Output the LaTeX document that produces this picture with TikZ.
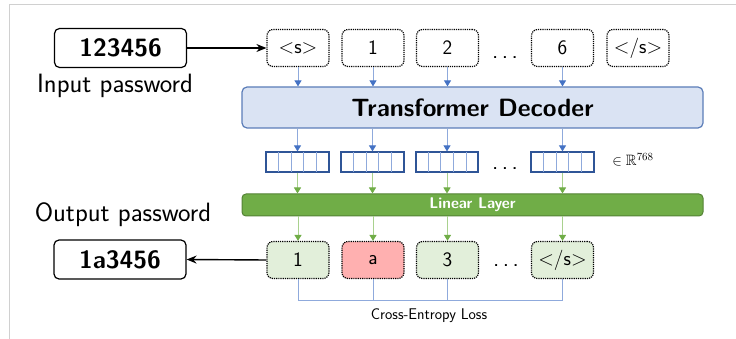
\documentclass[tikz,border=0pt]{standalone}
\usepackage{fontspec}
\usepackage{amssymb}
\usetikzlibrary{arrows.meta,calc}
\definecolor{tipblue}{HTML}{4472C4}
\definecolor{lineblue}{HTML}{8FAADC}
\definecolor{decfill}{HTML}{DAE3F3}
\definecolor{decdraw}{HTML}{5B7DB8}
\definecolor{vecdraw}{HTML}{2F5597}
\definecolor{tipgreen}{HTML}{70AD47}
\definecolor{linegreen}{HTML}{A9D18E}
\definecolor{linfill}{HTML}{70AD47}
\definecolor{lindraw}{HTML}{548235}
\definecolor{outfill}{HTML}{E2EFDA}
\definecolor{errfill}{HTML}{FFB0B0}
\definecolor{framegrey}{HTML}{D0D0D0}
\newcommand{\wdots}{.\hspace{3.5pt}.\hspace{3.5pt}.}
\begin{document}
\begin{tikzpicture}[x=1pt,y=-1pt,
  pwbox/.style={draw=black,line width=1.2pt,rounded corners=5pt,minimum width=132pt,minimum height=39pt,inner sep=0pt,font=\sffamily\bfseries\fontsize{25}{28}\selectfont},
  lbl/.style={anchor=base,inner sep=0pt,font=\sffamily\fontsize{26.5}{30}\selectfont},
  tok/.style={draw=black,line width=1.2pt,dash pattern=on 1.2pt off 1pt,rounded corners=6pt,minimum width=62pt,minimum height=37pt,inner sep=0pt,font=\sffamily\fontsize{20.5}{24}\selectfont},
  outtok/.style={tok,fill=outfill},
  errtok/.style={tok,fill=errfill},
  dotsnode/.style={inner sep=0pt,font=\sffamily\fontsize{24}{26}\selectfont},
  vecbox/.style={draw=vecdraw,line width=1.2pt,minimum width=62pt,minimum height=20pt,inner sep=0pt},
  vecdiv/.style={draw=lineblue,line width=0.9pt},
  bluearrow/.style={draw=lineblue,line width=0.9pt,-{Triangle[width=7pt,length=6pt,color=tipblue]}},
  greenarrow/.style={draw=linegreen,line width=0.9pt,-{Triangle[width=7pt,length=6pt,color=tipgreen]}},
  blackarrow/.style={draw=black,line width=1.4pt,-{Stealth[length=10pt,width=8pt]}},
  lossline/.style={draw=lineblue,line width=0.9pt},
  framestyle/.style={draw=framegrey,line width=1pt}
]
\useasboundingbox (0,0) rectangle (736,339);
% frame
\draw[framestyle] (736,4.5) -- (9.5,4.5) -- (9.5,339);

% input
\node[pwbox] (inpw) at (120.5,48) {123456};
\node[lbl] (inlbl) at (115,93) {Input password};

% top tokens
\node[tok] (t1) at (298,48) {<s>};
\node[tok] (t2) at (373,48) {1};
\node[tok] (t3) at (447.5,48) {2};
\node[dotsnode,anchor=base] (tdots) at (505,59) {\wdots};
\node[tok] (t4) at (562.5,48) {6};
\node[tok] (t5) at (638,48) {</s>};

\draw[blackarrow] (inpw.east) -- (t1.west);

% decoder
\node[draw=decdraw,fill=decfill,line width=1.2pt,rounded corners=5pt,minimum width=461pt,minimum height=41pt,inner sep=0pt,font=\sffamily\bfseries\fontsize{25}{28}\selectfont] (dec) at (472.5,107.5) {Transformer Decoder};

\foreach \i in {1,2,3,4}{
  \draw[bluearrow] (t\i.south) -- (t\i.south |- dec.north);
}

% vectors
\node[vecbox] (v1) at (297.5,162) {};
\node[vecbox] (v2) at (372.5,162) {};
\node[vecbox] (v3) at (447,162) {};
\node[dotsnode,anchor=base] (vdots) at (505,170) {\wdots};
\node[vecbox] (v4) at (562.5,162) {};
\node[inner sep=0pt,font=\fontsize{15}{17}\selectfont] (dim) at (633,160) {$\in \mathbb{R}^{768}$};

\foreach \v in {v1,v2,v3,v4}{
  \foreach \k in {1,2,3,4}{
    \draw[vecdiv] ($(\v.north west)!\k/5!(\v.north east)+(0,0.6)$) -- ($(\v.south west)!\k/5!(\v.south east)+(0,-0.6)$);
  }
  \draw[vecdraw,line width=1.2pt] (\v.north west) rectangle (\v.south east);
}

\foreach \i in {1,2,3,4}{
  \draw[bluearrow] (dec.south -| v\i.north) -- (v\i.north);
}

% linear layer
\node[draw=lindraw,fill=linfill,line width=1pt,rounded corners=4pt,minimum width=461pt,minimum height=22pt,inner sep=0pt,text=white,font=\sffamily\bfseries\fontsize{15.5}{17}\selectfont] (lin) at (472.5,205) {Linear Layer};

\foreach \i in {1,2,3,4}{
  \draw[greenarrow] (v\i.south) -- (v\i.south |- lin.north);
}

% output tokens
\node[outtok] (o1) at (298,260) {1};
\node[errtok] (o2) at (373,260) {a};
\node[outtok] (o3) at (447.5,260) {3};
\node[dotsnode,anchor=base] (odots) at (506,266) {\wdots};
\node[outtok] (o4) at (562.5,260) {</s>};

\foreach \i in {1,2,3,4}{
  \draw[greenarrow] (lin.south -| o\i.north) -- (o\i.north);
}

% output password
\node[lbl] (outlbl) at (123,222) {Output password};
\node[pwbox] (outpw) at (120,259.5) {1a3456};
\draw[blackarrow] (o1.west) -- (outpw.east);

% loss
\coordinate (lossy) at (0,300);
\draw[lossline] (o1.south) -- (o1.south |- lossy) -- (o4.south |- lossy) -- (o4.south);
\draw[lossline] (o2.south) -- (o2.south |- lossy);
\draw[lossline] (o3.south) -- (o3.south |- lossy);
\node[anchor=base,inner sep=0pt,font=\sffamily\fontsize{15.5}{17}\selectfont] (loss) at (429,319.5) {Cross-Entropy Loss};
\end{tikzpicture}
\end{document}
